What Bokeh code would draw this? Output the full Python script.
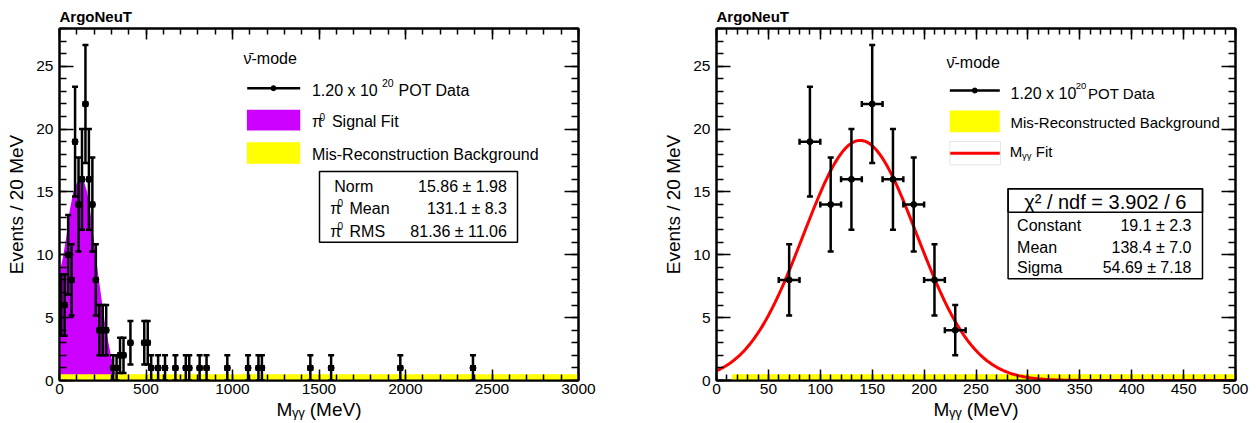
import numpy as np
from bokeh.plotting import figure
from bokeh.models import (Label, BoxAnnotation, SingleIntervalTicker, LinearAxis,
                          Range1d, ColumnDataSource, CustomLabelingPolicy)
from bokeh.layouts import row
from bokeh.embed import file_html
from bokeh.resources import INLINE

FONT = "Liberation Sans"

# ---------------- data ----------------
# left panel: data points (20 MeV bins)
left_bin_centers = [10, 30, 50, 70, 90, 110, 130, 150, 170, 190, 210, 230, 250, 270,
                    310, 330, 350, 370, 410, 490, 510, 530, 570, 610, 670, 730, 750,
                    810, 850, 970, 1090, 1150, 1170, 1450, 1570, 1970, 2390]
left_counts = [6, 6, 10, 8, 19, 14, 16, 22, 16, 14, 8, 4, 4, 4,
               1, 1, 2, 2, 3, 3, 3, 1, 1, 1, 1, 1, 1,
               1, 1, 1, 1, 1, 1, 1, 1, 1, 1]
left_errors = [2.45, 2.45, 3.16, 2.83, 4.36, 3.74, 4.0, 4.69, 4.0, 3.74, 2.83, 2.0, 2.0, 2.0,
               1.0, 1.0, 1.41, 1.41, 1.73, 1.73, 1.73, 1.0, 1.0, 1.0, 1.0, 1.0, 1.0,
               1.0, 1.0, 1.0, 1.0, 1.0, 1.0, 1.0, 1.0, 1.0, 1.0]
bin_half_width = 10

# left panel: pi0 signal fit shape
signal_mass = [0, 20, 40, 60, 80, 100, 120, 140, 160, 180, 200, 220, 240, 260, 280, 300, 320, 335]
signal_height = [8.6, 9.8, 11.5, 13.6, 15.0, 15.7, 16.0, 15.9, 15.0, 13.2, 11.0, 8.8, 6.8,
                 4.8, 3.2, 1.8, 0.7, 0.0]

# mis-reconstructed background bands
bg_left_mass = [0, 3000]
bg_left_level = [0.5, 0.5]
bg_right_mass = [15, 500]
bg_right_level = [0.5, 0.5]

# right panel data
right_bin_centers = [70, 90, 110, 130, 150, 170, 190, 210, 230]
right_counts = [8, 19, 14, 16, 22, 16, 14, 8, 4]
right_errors = [2.83, 4.36, 3.74, 4.0, 4.69, 4.0, 3.74, 2.83, 2.0]

# Gaussian fit parameters (from the stats box)
fit_constant = 19.1
fit_mean = 138.4
fit_sigma = 54.69

left_stats_values = ["15.86 \u00b1 1.98", "131.1 \u00b1 8.3", "81.36 \u00b1 11.06"]
right_stats_header = "\u03c7\u00b2 / ndf = 3.902 / 6"
right_stats_names = ["Constant", "Mean", "Sigma"]
right_stats_values = ["19.1 \u00b1 2.3", "138.4 \u00b1 7.0", "54.69 \u00b1 7.18"]

LEFT_XMAX = 3000
RIGHT_XMAX = 500
YMAX = 28.0

# ---------------- layout ----------------
FW, FH = 519, 352
MAGENTA = "#cc00ff"
YELLOW = "#ffff00"
TICK_FONT = "15.5px"
TEXT_DY = -4


def no_labels():
    return CustomLabelingPolicy(code="""
        for (const i of indices) { indices.unset(i) }
        return indices
    """)


def style_axis(ax, interval, major_len, minor_len, labels=True):
    ax.ticker = SingleIntervalTicker(interval=interval, num_minor_ticks=5)
    ax.axis_line_color = "black"
    ax.axis_line_width = 2
    ax.major_tick_in = major_len
    ax.major_tick_out = 0
    ax.minor_tick_in = minor_len
    ax.minor_tick_out = 0
    ax.major_tick_line_width = 1.5
    ax.minor_tick_line_width = 1.5
    ax.major_tick_line_color = "black"
    ax.minor_tick_line_color = "black"
    ax.major_label_text_font = FONT
    ax.major_label_text_color = "black"
    if labels:
        ax.major_label_text_font_size = TICK_FONT
    else:
        ax.major_label_text_font_size = "1px"
        ax.major_label_standoff = 0
        ax.major_label_policy = no_labels()


def make_panel(xmax, xint, border_left, border_right):
    p = figure(output_backend="svg", toolbar_location=None, title="ArgoNeuT",
               frame_width=FW, frame_height=FH,
               x_range=Range1d(0, xmax), y_range=Range1d(0, YMAX),
               x_axis_type=None, y_axis_type=None,
               min_border_left=border_left, min_border_right=border_right,
               min_border_top=28, min_border_bottom=43)
    p.background_fill_color = "white"
    p.border_fill_color = "white"
    p.outline_line_color = "black"
    p.outline_line_width = 2
    p.outline_line_alpha = 1
    p.title.text_font = FONT
    p.title.text_font_size = "15px"
    p.title.text_font_style = "bold"
    p.title.text_color = "black"
    p.title.align = "left"
    p.title.standoff = 0
    p.title.offset = 0

    xb = LinearAxis(axis_label="M\u1d67\u1d67 (MeV)")
    style_axis(xb, xint, 11, 6)
    xb.major_label_standoff = 3
    xb.axis_label_text_font = FONT
    xb.axis_label_text_font_size = "19px"
    xb.axis_label_text_font_style = "normal"
    xb.axis_label_text_color = "black"
    xb.axis_label_standoff = 2
    p.add_layout(xb, "below")
    xt = LinearAxis()
    style_axis(xt, xint, 11, 6, labels=False)
    p.add_layout(xt, "above")
    yl = LinearAxis(axis_label="Events / 20 MeV")
    style_axis(yl, 5, 14, 7)
    yl.major_label_standoff = 6
    yl.axis_label_text_font = FONT
    yl.axis_label_text_font_size = "19px"
    yl.axis_label_text_font_style = "normal"
    yl.axis_label_text_color = "black"
    yl.axis_label_standoff = 6
    p.add_layout(yl, "left")
    yr = LinearAxis()
    style_axis(yr, 5, 14, 7, labels=False)
    p.add_layout(yr, "right")
    return p


def helpers(xmax):
    def X(rx):
        return rx / FW * xmax

    def Y(ry):
        return YMAX - ry / FH * YMAX
    return X, Y


def text(p, X, Y, rx, ry, s, size, align="left", style="normal"):
    p.add_layout(Label(x=X(rx), y=Y(ry + TEXT_DY), text=s, text_font=FONT,
                       text_font_size=f"{size}px", text_align=align,
                       text_baseline="alphabetic", text_font_style=style,
                       text_color="black"))


def box(p, X, Y, rx0, rx1, ry0, ry1, fill, line, lw=1.0):
    p.add_layout(BoxAnnotation(left=X(rx0), right=X(rx1), top=Y(ry0), bottom=Y(ry1),
                               fill_color=fill, fill_alpha=1 if fill else 0,
                               line_color=line, line_alpha=1 if line else 0,
                               line_width=lw))


def draw_data(p, xs, ys, errs, cap=6, lw=2.5, msize=6):
    src = ColumnDataSource(dict(
        x=xs, y=ys,
        ylo=[y - e for y, e in zip(ys, errs)], yhi=[y + e for y, e in zip(ys, errs)],
        xlo=[x - bin_half_width for x in xs], xhi=[x + bin_half_width for x in xs]))
    p.segment("x", "ylo", "x", "yhi", source=src, line_color="black", line_width=lw)
    p.segment("xlo", "y", "xhi", "y", source=src, line_color="black", line_width=lw)
    for col in ("ylo", "yhi"):
        p.scatter("x", col, source=src, marker="dash", size=cap, line_color="black",
                  line_width=lw)
    for col in ("xlo", "xhi"):
        p.scatter(col, "y", source=src, marker="dash", angle=np.pi / 2, size=cap,
                  line_color="black", line_width=lw)
    p.scatter("x", "y", source=src, marker="circle", size=msize, fill_color="black",
              line_color="black")


# ---------------- left panel ----------------
p1 = make_panel(LEFT_XMAX, 500, 59, 40)
X, Y = helpers(LEFT_XMAX)
p1.varea(x=signal_mass, y1=0, y2=signal_height, fill_color=MAGENTA)
p1.varea(x=bg_left_mass, y1=0, y2=bg_left_level, fill_color=YELLOW)
draw_data(p1, left_bin_centers, left_counts, left_errors)

text(p1, X, Y, 184, 33.7, "\u03bd\u0304-mode", 16)
p1.segment(x0=[X(187.7)], y0=[Y(59.7)], x1=[X(240.7)], y1=[Y(59.7)],
           line_color="black", line_width=2.5)
p1.scatter(x=[X(214)], y=[Y(59.7)], size=5, marker="circle", color="black")
text(p1, X, Y, 252.4, 66, "1.20 x 10", 16)
text(p1, X, Y, 322.4, 58.7, "20", 10.5)
text(p1, X, Y, 339, 66, "POT Data", 16)
box(p1, X, Y, 187.4, 240.7, 81.3, 102, MAGENTA, None)
text(p1, X, Y, 252.4, 97, "\u03c0", 16)
text(p1, X, Y, 260, 92, "0", 10)
text(p1, X, Y, 272.4, 97, "Signal Fit", 16)
box(p1, X, Y, 187.4, 240.7, 113.7, 135.3, YELLOW, None)
text(p1, X, Y, 252.4, 130.3, "Mis-Reconstruction Background", 16)

box(p1, X, Y, 260, 458, 143, 213.7, "white", "black", 1.5)
text(p1, X, Y, 274.7, 162, "Norm", 16)
text(p1, X, Y, 447.4, 162, left_stats_values[0], 16, align="right")
text(p1, X, Y, 270.7, 184.3, "\u03c0", 16)
text(p1, X, Y, 278, 178.7, "0", 10)
text(p1, X, Y, 290, 184.3, "Mean", 16)
text(p1, X, Y, 447.4, 184.3, left_stats_values[1], 16, align="right")
text(p1, X, Y, 270.7, 207, "\u03c0", 16)
text(p1, X, Y, 278, 201.3, "0", 10)
text(p1, X, Y, 290, 207, "RMS", 16)
text(p1, X, Y, 447.4, 207, left_stats_values[2], 16, align="right")

# ---------------- right panel ----------------
p2 = make_panel(RIGHT_XMAX, 50, 98, 21)
X, Y = helpers(RIGHT_XMAX)
p2.varea(x=bg_right_mass, y1=0, y2=bg_right_level, fill_color=YELLOW)
fit_x = np.linspace(0, RIGHT_XMAX, 251)
fit_y = fit_constant * np.exp(-0.5 * ((fit_x - fit_mean) / fit_sigma) ** 2)
p2.line(fit_x, fit_y, line_color="red", line_width=3)
draw_data(p2, right_bin_centers, right_counts, right_errors)

text(p2, X, Y, 230, 37.7, "\u03bd\u0304-mode", 16)
p2.segment(x0=[X(233.3)], y0=[Y(62)], x1=[X(283.3)], y1=[Y(62)],
           line_color="black", line_width=2.5)
p2.scatter(x=[X(258.3)], y=[Y(62)], size=5, marker="circle", color="black")
text(p2, X, Y, 294, 68.7, "1.20 x 10", 16)
text(p2, X, Y, 359.3, 61.3, "20", 9.5)
text(p2, X, Y, 371.6, 68.7, "POT Data", 15)
box(p2, X, Y, 233.3, 283.3, 82, 103.7, YELLOW, None)
text(p2, X, Y, 294, 98, "Mis-Reconstructed Background", 15)
box(p2, X, Y, 233.3, 284, 113, 136.3, None, "#e6e6e6")
p2.segment(x0=[X(233.3)], y0=[Y(124.7)], x1=[X(283.3)], y1=[Y(124.7)],
           line_color="red", line_width=3)
text(p2, X, Y, 293.3, 127, "M", 15)
text(p2, X, Y, 305.6, 130.5, "\u03b3\u03b3", 9.5)
text(p2, X, Y, 319.3, 127, "Fit", 15)

box(p2, X, Y, 291.6, 486, 160.3, 250.3, "white", "black", 1.5)
box(p2, X, Y, 291.6, 486, 160.3, 183.7, None, "black", 1.5)
text(p2, X, Y, 388.8, 177.7, right_stats_header, 20, align="center")
for i, (nm, vl) in enumerate(zip(right_stats_names, right_stats_values)):
    by = [201, 222.7, 243][i]
    text(p2, X, Y, 300.6, by, nm, 16)
    text(p2, X, Y, 475, by, vl, 16, align="right")

layout = row(p1, p2)
open("out.html", "w").write(file_html(layout, INLINE))
